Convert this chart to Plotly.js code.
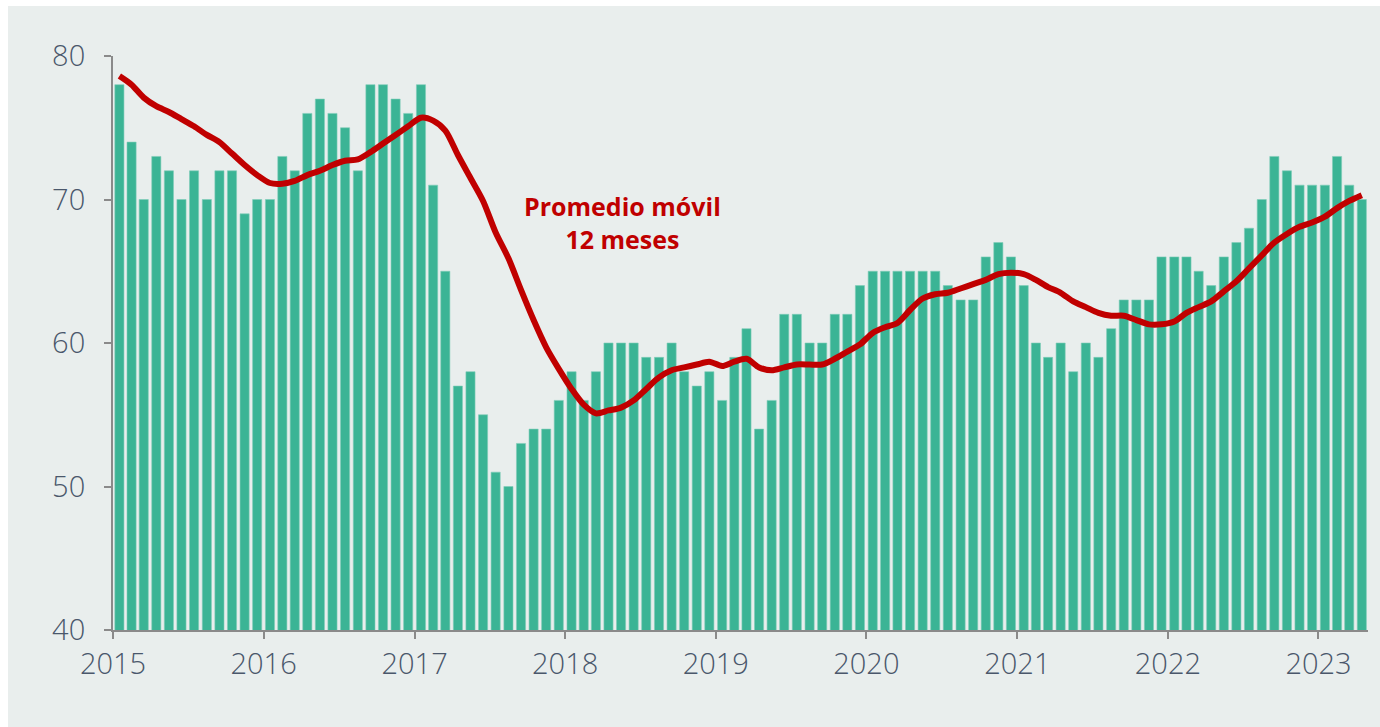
<!DOCTYPE html>
<html>
<head>
<meta charset="utf-8">
<script src="https://cdn.plot.ly/plotly-3.0.1.min.js"></script>
<style>
  html, body { margin: 0; padding: 0; background: #ffffff; }
  #chart { position: absolute; left: 8px; top: 6px; width: 1372px; height: 721px; }
</style>
</head>
<body>
<div id="chart"></div>
<script>
// Monthly values, Jan 2015 - Apr 2023
const startYear = 2015;
const barValues = [
  78, 74, 70, 73, 72, 70, 72, 70, 72, 72, 69, 70,   // 2015
  70, 73, 72, 76, 77, 76, 75, 72, 78, 78, 77, 76,   // 2016
  78, 71, 65, 57, 58, 55, 51, 50, 53, 54, 54, 56,   // 2017
  58, 56, 58, 60, 60, 60, 59, 59, 60, 58, 57, 58,   // 2018
  56, 59, 61, 54, 56, 62, 62, 60, 60, 62, 62, 64,   // 2019
  65, 65, 65, 65, 65, 65, 64, 63, 63, 66, 67, 66,   // 2020
  64, 60, 59, 60, 58, 60, 59, 61, 63, 63, 63, 66,   // 2021
  66, 66, 65, 64, 66, 67, 68, 70, 73, 72, 71, 71,   // 2022
  71, 73, 71, 70                                    // 2023
];
const movingAvg = [
  78.6, 78.0, 77.1, 76.5, 76.1, 75.6, 75.1, 74.5, 74.0, 73.2, 72.4, 71.7,
  71.15, 71.1, 71.3, 71.7, 72.0, 72.4, 72.7, 72.8, 73.3, 73.9, 74.5, 75.1,
  75.7, 75.5, 74.8, 73.1, 71.5, 69.9, 67.7, 65.9, 63.7, 61.6, 59.7, 58.2,
  56.8, 55.7, 55.1, 55.3, 55.5, 56.0, 56.8, 57.6, 58.1, 58.3, 58.5, 58.7,
  58.4, 58.7, 58.9, 58.3, 58.1, 58.3, 58.5, 58.5, 58.5, 58.9, 59.4, 59.9,
  60.7, 61.1, 61.4, 62.3, 63.1, 63.4, 63.5, 63.8, 64.1, 64.4, 64.8, 64.9,
  64.8, 64.4, 63.9, 63.5, 62.9, 62.5, 62.1, 61.9, 61.9, 61.6, 61.3, 61.3,
  61.5, 62.1, 62.5, 62.9, 63.6, 64.3, 65.2, 66.1, 67.0, 67.6, 68.1, 68.4,
  68.8, 69.4, 69.9, 70.3
];
const yTickVals = [40, 50, 60, 70, 80];
const xTickLabels = ['2015','2016','2017','2018','2019','2020','2021','2022','2023'];
const annotationText = 'Promedio móvil<br>12 meses';

// month dates (category axis positions)
const months = barValues.map((_, i) => {
  const y = startYear + Math.floor(i / 12);
  const m = (i % 12) + 1;
  return y + '-' + String(m).padStart(2, '0') + '-01';
});
const xTickVals = xTickLabels.map(y => y + '-01-01');

const tickFont = { family: 'Open Sans, Liberation Sans, sans-serif', size: 29, color: '#4a576b', weight: 300 };

const traces = [
  {
    type: 'bar',
    x: months,
    y: barValues,
    xperiod: 'M1',
    xperiodalignment: 'middle',
    base: 0,
    marker: { color: '#3bb495', line: { width: 0.6, color: '#7fcdb8' } },
    hoverinfo: 'x+y'
  },
  {
    type: 'scatter',
    mode: 'lines',
    x: months,
    y: movingAvg,
    xperiod: 'M1',
    xperiodalignment: 'middle',
    line: { color: '#c00000', width: 6, shape: 'spline', smoothing: 0.8 },
    hoverinfo: 'x+y'
  }
];

const layout = {
  width: 1372,
  height: 721,
  margin: { l: 105, r: 12, t: 50, b: 97 },
  paper_bgcolor: '#e9eeed',
  plot_bgcolor: '#e9eeed',
  showlegend: false,
  bargap: 0.25,
  xaxis: {
    type: 'date',
    range: ['2015-01-01', '2023-05-01'],
    tickmode: 'array',
    tickvals: xTickVals,
    ticktext: xTickLabels,
    ticks: 'outside',
    ticklen: 7,
    tickwidth: 2,
    tickcolor: '#8a8a8a',
    showline: true,
    linecolor: '#8a8a8a',
    linewidth: 2,
    showgrid: false,
    zeroline: false,
    tickfont: tickFont,
    ticklabelstandoff: 0
  },
  yaxis: {
    range: [40, 80],
    tickmode: 'array',
    tickvals: yTickVals,
    ticktext: yTickVals.map(String),
    ticks: 'outside',
    ticklen: 7,
    tickwidth: 2,
    tickcolor: '#8a8a8a',
    showline: true,
    linecolor: '#8a8a8a',
    linewidth: 2,
    showgrid: false,
    zeroline: false,
    tickfont: tickFont,
    ticklabelstandoff: 13
  },
  annotations: [{
    xref: 'paper', yref: 'paper',
    x: 0.4056, y: 0.71,
    xanchor: 'center', yanchor: 'middle',
    text: '<b>' + annotationText + '</b>',
    showarrow: false,
    align: 'center',
    font: { family: 'Open Sans, sans-serif', size: 25, color: '#c00000' }
  }]
};

Plotly.newPlot('chart', traces, layout, { displayModeBar: false, staticPlot: true });
</script>
</body>
</html>
